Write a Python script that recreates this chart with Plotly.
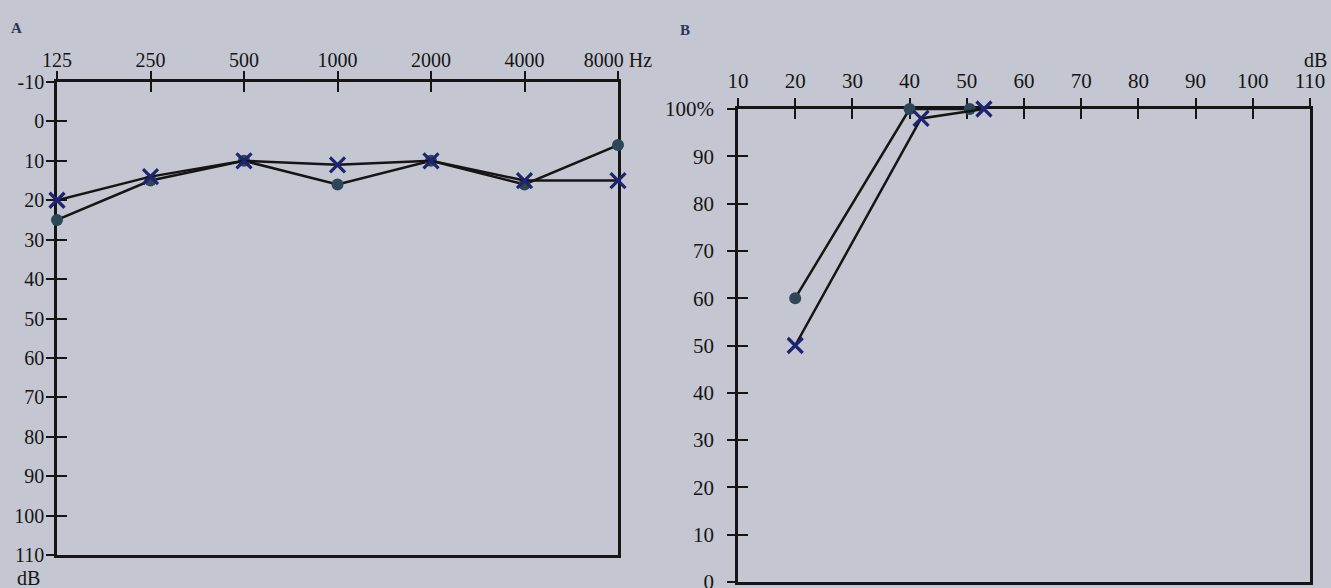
import math
import plotly.graph_objects as go

# ---- Data: A (audiogram) ----
freqs = [125, 250, 500, 1000, 2000, 4000, 8000]
freq_labels = ["125", "250", "500", "1000", "2000", "4000", "8000 Hz"]
a_circle_db = [25, 15, 10, 16, 10, 16, 6]
a_cross_db = [20, 14, 10, 11, 10, 15, 15]
a_y_ticks = [-10, 0, 10, 20, 30, 40, 50, 60, 70, 80, 90, 100, 110]
a_y_labels = ["-10", "0", "10", "20", "30", "40", "50", "60", "70", "80", "90", "100", "110"]

# ---- Data: B (speech audiometry) ----
b_circle_x = [20, 40, 50.5]
b_circle_y = [60, 100, 100]
b_cross_x = [20, 42, 53]
b_cross_y = [50, 98, 100]
b_x_ticks = [10, 20, 30, 40, 50, 60, 70, 80, 90, 100, 110]
b_y_ticks = [0, 10, 20, 30, 40, 50, 60, 70, 80, 90, 100]
b_y_labels = ["0", "10", "20", "30", "40", "50", "60", "70", "80", "90", "100%"]

BG = "#c4c7d1"
INK = "#151515"
CIRCLE_C = "#2d4756"
CROSS_C = "#1f2470"
SERIF = "Liberation Serif, Times New Roman, serif"
FONT_A = dict(family=SERIF, size=20, color=INK)
FONT_B = dict(family=SERIF, size=21, color=INK)
TICK_LEN = 10

fig = go.Figure()

line_style = dict(color=INK, width=2.5)
circle_marker = dict(symbol="circle", size=12, color=CIRCLE_C)
cross_marker = dict(symbol="x-thin", size=15, line=dict(color=CROSS_C, width=3.2))

for xs, ys, mk, xa, ya in [
    (freqs, a_circle_db, circle_marker, "x", "y"),
    (freqs, a_cross_db, cross_marker, "x", "y"),
    (b_circle_x, b_circle_y, circle_marker, "x2", "y2"),
    (b_cross_x, b_cross_y, cross_marker, "x2", "y2"),
]:
    fig.add_trace(go.Scatter(x=xs, y=ys, mode="lines+markers", line=line_style, marker=mk,
                             xaxis=xa, yaxis=ya, showlegend=False, cliponaxis=False,
                             hoverinfo="skip"))

# invisible helper traces so the overlay axes (outer halves of crossing ticks) get drawn
for xa, ya, xv, yv in [("x3", "y", freqs[0], a_y_ticks[0]), ("x", "y3", freqs[0], a_y_ticks[0]),
                       ("x4", "y2", b_x_ticks[0], b_y_ticks[0]),
                       ("x2", "y4", b_x_ticks[0], b_y_ticks[0])]:
    fig.add_trace(go.Scatter(x=[xv], y=[yv], mode="markers", marker=dict(opacity=0, size=1),
                             xaxis=xa, yaxis=ya, showlegend=False, hoverinfo="skip"))

W, H = 1331, 588
a_dom_x = [57 / W, 618 / W]
a_dom_y = [1 - 555 / H, 1 - 82 / H]
b_dom_x = [738 / W, 1310 / W]
b_dom_y = [1 - 582 / H, 1 - 109 / H]

a_xrange = [math.log10(freqs[0]), math.log10(freqs[-1])]
a_yrange = [110, -10]
b_xrange = [10, 110]
b_yrange = [0, 100]


def ax(font, **kw):
    d = dict(showgrid=False, zeroline=False, showline=True, linecolor=INK, linewidth=2.5,
             ticks="inside", ticklen=TICK_LEN, tickwidth=2.2, tickcolor=INK,
             tickfont=font, automargin=False, layer="below traces",
             ticklabeloverflow="allow", mirror=True, tickmode="array", autorange=False)
    d.update(kw)
    return d


def outer(font, **kw):
    return ax(font, ticks="outside", showline=False, showticklabels=False, mirror=False, **kw)


fig.update_layout(
    width=W, height=H, margin=dict(l=0, r=0, t=0, b=0),
    paper_bgcolor=BG, plot_bgcolor="rgba(0,0,0,0)",
    xaxis=ax(FONT_A, domain=a_dom_x, anchor="y", side="top", type="log", range=a_xrange,
             tickvals=freqs, ticktext=freq_labels, ticklabelstandoff=4),
    yaxis=ax(FONT_A, domain=a_dom_y, anchor="x", range=a_yrange,
             tickvals=a_y_ticks, ticktext=a_y_labels, ticklabelstandoff=6),
    xaxis2=ax(FONT_B, domain=b_dom_x, anchor="y2", side="top", range=b_xrange,
              tickvals=b_x_ticks, ticklabelstandoff=10),
    yaxis2=ax(FONT_B, domain=b_dom_y, anchor="x2", range=b_yrange,
              tickvals=b_y_ticks, ticktext=b_y_labels, ticklabelstandoff=17),
    xaxis3=outer(FONT_A, overlaying="x", anchor="y", side="top", type="log", range=a_xrange,
                 tickvals=freqs),
    yaxis3=outer(FONT_A, overlaying="y", anchor="x", side="left", range=a_yrange,
                 tickvals=a_y_ticks),
    xaxis4=outer(FONT_B, overlaying="x2", anchor="y2", side="top", range=b_xrange,
                 tickvals=b_x_ticks),
    yaxis4=outer(FONT_B, overlaying="y2", anchor="x2", side="left", range=b_yrange,
                 tickvals=b_y_ticks),
)

label_font = dict(family=SERIF, size=15, color="#2a3658")


def note(text, px, py, font):
    fig.add_annotation(text=text, xref="paper", yref="paper", x=px / W, y=1 - py / H,
                       xanchor="center", yanchor="middle", showarrow=False, font=font)


note("<b>A</b>", 16, 28, label_font)
note("<b>B</b>", 685, 30, label_font)
note("dB", 28, 578, FONT_A)
note("dB", 1315, 60, dict(family=SERIF, size=20, color=INK))

fig.write_html("out.html")
